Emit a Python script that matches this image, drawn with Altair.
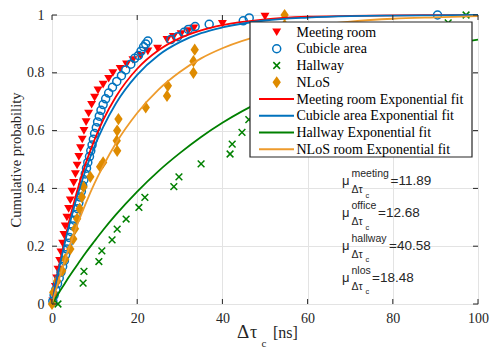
import altair as alt
import pandas as pd

# ---------------- data ----------------
marker_names = ["Meeting room", "Cubicle area", "Hallway", "NLoS"]
fit_names = ["Meeting room Exponential fit", "Cubicle area Exponential fit",
             "Hallway Exponential fit", "NLoS room Exponential fit"]

meeting_x = [0.2, 0.5, 0.8, 1.1, 1.4, 1.8, 2.1, 2.5, 2.8, 3.1, 3.5, 3.9, 4.3, 4.7, 5.1, 5.5,
             5.9, 6.3, 6.7, 7.1, 7.5, 8.0, 8.6, 9.3, 10.0, 10.8, 12.0, 13.3, 14.3, 16.0, 17.5,
             19.0, 20.8, 22.5, 24.8, 27.0, 28.5, 30.3, 32.0, 33.3, 40.0, 50.0]
meeting_y = [0.01, 0.03, 0.06, 0.09, 0.12, 0.15, 0.18, 0.21, 0.24, 0.27, 0.30, 0.33, 0.36, 0.39,
             0.42, 0.45, 0.48, 0.51, 0.54, 0.57, 0.60, 0.63, 0.66, 0.69, 0.715, 0.74, 0.76, 0.78,
             0.80, 0.815, 0.83, 0.845, 0.86, 0.875, 0.885, 0.915, 0.925, 0.935, 0.945, 0.955,
             0.97, 0.995]

cubicle_x = [0.2, 0.5, 0.9, 1.3, 1.7, 2.1, 2.5, 2.9, 3.2, 3.5, 3.8, 4.1, 4.5, 4.9, 5.3, 5.7,
             6.0, 6.3, 6.6, 6.9, 7.2, 7.5, 7.8, 8.1, 8.4, 8.8, 9.1, 9.4, 9.7, 10.0, 10.4, 10.7,
             11.1, 11.5, 12.0, 12.6, 13.3, 14.2, 15.2, 16.3, 17.3, 18.5, 19.4, 20.3, 20.9,
             21.5, 22.0, 22.5, 27.9, 29.5, 31.0, 32.0, 33.6, 36.9, 44.9, 46.3, 90.5]
cubicle_y = [0.01, 0.03, 0.05, 0.07, 0.09, 0.11, 0.13, 0.15, 0.17, 0.19, 0.21, 0.23, 0.25,
             0.27, 0.29, 0.31, 0.33, 0.35, 0.37, 0.39, 0.41, 0.43, 0.45, 0.47, 0.49, 0.51,
             0.53, 0.55, 0.57, 0.59, 0.61, 0.63, 0.65, 0.67, 0.69, 0.71, 0.73, 0.75, 0.77,
             0.79, 0.81, 0.83, 0.85, 0.86, 0.875, 0.89, 0.90, 0.91, 0.915, 0.925, 0.94, 0.95,
             0.96, 0.968, 0.98, 0.99, 1.0]

hallway_x = [1.4, 7.3, 7.5, 11.0, 11.7, 14.1, 15.3, 17.4, 20.4, 21.8, 28.6, 29.8, 35.0,
             41.8, 42.3, 44.6, 46.2, 93.0, 97.2]
hallway_y = [0.0, 0.072, 0.113, 0.147, 0.184, 0.222, 0.259, 0.294, 0.334, 0.369, 0.406,
             0.440, 0.485, 0.519, 0.553, 0.594, 0.638, 0.973, 1.0]

nlos_x = [0.0, 0.3, 1.2, 2.4, 3.1, 4.3, 5.0, 5.4, 5.9, 6.5, 7.0, 7.4, 9.0, 11.3, 12.0, 15.3,
          15.2, 15.3, 15.6, 22.0, 27.0, 27.2, 33.2, 33.2, 33.5, 54.6, 54.6]
nlos_y = [0.0, 0.04, 0.08, 0.115, 0.155, 0.19, 0.225, 0.26, 0.295, 0.33, 0.37, 0.405, 0.44,
          0.475, 0.49, 0.53, 0.565, 0.60, 0.64, 0.68, 0.72, 0.755, 0.80, 0.84, 0.88, 0.965, 1.0]

fit_x = [0, 1, 2, 3, 4, 5, 6, 8, 10, 12, 15, 20, 25, 30, 35, 40, 50, 60, 70, 80, 90, 100]
fit_meeting = [0, 0.081, 0.155, 0.223, 0.286, 0.343, 0.396, 0.490, 0.569, 0.636, 0.717, 0.814,
               0.878, 0.920, 0.947, 0.965, 0.985, 0.994, 0.997, 0.999, 0.9995, 1.0]
fit_cubicle = [0, 0.076, 0.146, 0.211, 0.271, 0.326, 0.377, 0.468, 0.546, 0.612, 0.694, 0.793,
               0.861, 0.906, 0.937, 0.957, 0.981, 0.991, 0.996, 0.998, 0.999, 1.0]
fit_hallway = [0, 0.024, 0.048, 0.071, 0.094, 0.116, 0.137, 0.179, 0.218, 0.256, 0.309, 0.389,
               0.460, 0.522, 0.578, 0.627, 0.708, 0.772, 0.822, 0.861, 0.891, 0.915]
fit_nlos = [0, 0.053, 0.103, 0.150, 0.195, 0.237, 0.277, 0.351, 0.418, 0.477, 0.556, 0.661,
            0.742, 0.803, 0.850, 0.885, 0.933, 0.961, 0.977, 0.987, 0.992, 0.996]

mu_keys = ["meeting", "office", "hallway", "nlos"]
mu_values = ["11.89", "12.68", "40.58", "18.48"]

x_ticks = [0, 20, 40, 60, 80, 100]
y_ticks = [0, 0.2, 0.4, 0.6, 0.8, 1]

# ---------------- styling / layout ----------------
TOP = 7                      # top padding so the "1" label is not clipped
W, H = 426, 296 - TOP
AX = "#262626"
SERIF = "Liberation Serif"
SANS = "Liberation Sans"
c_red, c_blue, c_green = "#FF0000", "#0072BD", "#008000"
c_orange_mk = "#DE8B00"
fit_colors = ["#FF0000", "#0072BD", "#008000", "#EE9B2C"]

TRI = "M-1,-0.8L1,-0.8L0,0.9Z"
XSH = "M-1,-1L1,1M-1,1L1,-1"
DIA = "M0,-1L0.68,0L0,1L-0.68,0Z"

xs = alt.Scale(domain=[0, 100], nice=False, zero=False)
ys = alt.Scale(domain=[0, 1], nice=False, zero=False)

X_AXIS = alt.Axis(values=x_ticks, title=None, grid=True, ticks=False, domain=False,
                  labelPadding=7, labelFont=SERIF, labelFontSize=14, labelColor=AX,
                  gridColor="#E3E3E3", labelFlush=False)
Y_AXIS = alt.Axis(values=y_ticks, format="~g", title="Cumulative probability", grid=True,
                  ticks=False, domain=False, labelPadding=8, labelFont=SERIF, labelFontSize=14,
                  labelColor=AX, gridColor="#E3E3E3", titleFont=SERIF, titleFontSize=14.5,
                  titleFontWeight="normal", titleColor=AX, titlePadding=3, labelFlush=False)


def XE():
    return alt.X("x:Q", scale=xs, axis=X_AXIS)


def YE():
    return alt.Y("y:Q", scale=ys, axis=Y_AXIS)


# ---------------- fits ----------------
fit_rows = []
for name, vals in zip(fit_names, [fit_meeting, fit_cubicle, fit_hallway, fit_nlos]):
    for xv, yv in zip(fit_x, vals):
        fit_rows.append({"x": xv, "y": yv, "series": name})
fit_df = pd.DataFrame(fit_rows)
color_scale = alt.Scale(domain=fit_names, range=fit_colors)

fits = alt.Chart(fit_df).mark_line(strokeWidth=1.8, interpolate="monotone").encode(
    x=XE(), y=YE(),
    color=alt.Color("series:N", scale=color_scale, legend=None),
    detail="series:N",
)


def pts(xv, yv):
    return pd.DataFrame({"x": xv, "y": yv})


m_meet = alt.Chart(pts(meeting_x, meeting_y)).mark_point(
    shape=TRI, filled=True, color=c_red, size=80, opacity=1, clip=False).encode(x=XE(), y=YE())
m_cub = alt.Chart(pts(cubicle_x, cubicle_y)).mark_point(
    shape="circle", filled=False, color=c_blue, size=64, strokeWidth=1.5, opacity=1,
    clip=False).encode(x=XE(), y=YE())
m_hall = alt.Chart(pts(hallway_x, hallway_y)).mark_point(
    shape=XSH, filled=False, color=c_green, size=45, strokeWidth=1.5, opacity=1,
    clip=False).encode(x=XE(), y=YE())
m_nlos = alt.Chart(pts(nlos_x, nlos_y)).mark_point(
    shape=DIA, filled=True, color=c_orange_mk, size=150, opacity=1, clip=False).encode(x=XE(), y=YE())

# ---------------- inward ticks on all four sides ----------------
xt = pd.DataFrame({"x": x_ticks})
yt = pd.DataFrame({"y": y_ticks})
ticks = [
    alt.Chart(xt).mark_rule(color=AX, strokeWidth=1).encode(
        x=XE(), y=alt.value(H), y2=alt.value(H - 5)),
    alt.Chart(xt).mark_rule(color=AX, strokeWidth=1).encode(
        x=XE(), y=alt.value(0), y2=alt.value(5)),
    alt.Chart(yt).mark_rule(color=AX, strokeWidth=1).encode(
        y=YE(), x=alt.value(0), x2=alt.value(5)),
    alt.Chart(yt).mark_rule(color=AX, strokeWidth=1).encode(
        y=YE(), x=alt.value(W), x2=alt.value(W - 5)),
]

# ---------------- x title with subscript ----------------
one = pd.DataFrame({"k": [0]})


def txt(s, x, y, size, font=SERIF, color=AX, baseline="alphabetic"):
    return alt.Chart(one).mark_text(font=font, fontSize=size, align="left", baseline=baseline,
                                    color=color).encode(x=alt.value(x), y=alt.value(y - TOP),
                                                        text=alt.value(s))


xtitle = [
    txt("Δ", 185, 330, 19),
    txt("τ", 198, 330, 18),
    txt("c", 209.5, 339, 11),
    txt("[ns]", 221, 330, 16),
]

# ---------------- mu annotations ----------------
mu_left = 290
mu_base = [177, 209, 241.5, 273.5]
eq_off = [48.5, 36, 47, 30]
annots = []
for key, val, b, eo in zip(mu_keys, mu_values, mu_base, eq_off):
    annots += [
        txt("μ", mu_left, b, 13, SANS),
        txt(key, mu_left + 9.5, b - 8, 10.5, SANS),
        txt("Δτ", mu_left + 9.5, b + 8, 10.5, SANS),
        txt("c", mu_left + 23.5, b + 12.5, 7.5, SANS),
        txt("=" + val, mu_left + eo, b, 13.5, SANS),
    ]

# ---------------- legend box ----------------
LX0, LX1, LY0, LY1 = 198, 420, 14 - TOP, 149 - TOP
row_y = [24 + 16.75 * i - TOP for i in range(8)]
sym_x, line_x0, line_x1, text_x = 224.7, 207, 242, 244.5

legend = [alt.Chart(one).mark_rect(fill="white", stroke=AX, strokeWidth=1.2).encode(
    x=alt.value(LX0), x2=alt.value(LX1), y=alt.value(LY0), y2=alt.value(LY1))]
sym_props = [
    dict(shape=TRI, filled=True, color=c_red, size=80),
    dict(shape="circle", filled=False, color=c_blue, size=64, strokeWidth=1.5),
    dict(shape=XSH, filled=False, color=c_green, size=45, strokeWidth=1.5),
    dict(shape=DIA, filled=True, color=c_orange_mk, size=150),
]
for i, props in enumerate(sym_props):
    legend.append(alt.Chart(one).mark_point(opacity=1, **props).encode(
        x=alt.value(sym_x), y=alt.value(row_y[i])))
for j, col in enumerate(fit_colors):
    legend.append(alt.Chart(one).mark_rule(color=col, strokeWidth=1.8).encode(
        x=alt.value(line_x0), x2=alt.value(line_x1), y=alt.value(row_y[4 + j])))
for i, name in enumerate(marker_names + fit_names):
    legend.append(txt(name, text_x, row_y[i] + 0.5 + TOP, 14, SERIF, "#000000", "middle"))

chart = alt.layer(
    m_meet, m_cub, m_hall, m_nlos,
    fits,
    *ticks, *xtitle, *annots, *legend,
).properties(
    width=W, height=H,
    autosize=alt.AutoSizeParams(type="none"),
    padding={"left": 44, "top": TOP, "right": 12, "bottom": 50},
).configure_view(stroke=AX, strokeWidth=1.2).configure(background="white")

chart.save("out.html", embed_options={"renderer": "svg", "actions": False})
